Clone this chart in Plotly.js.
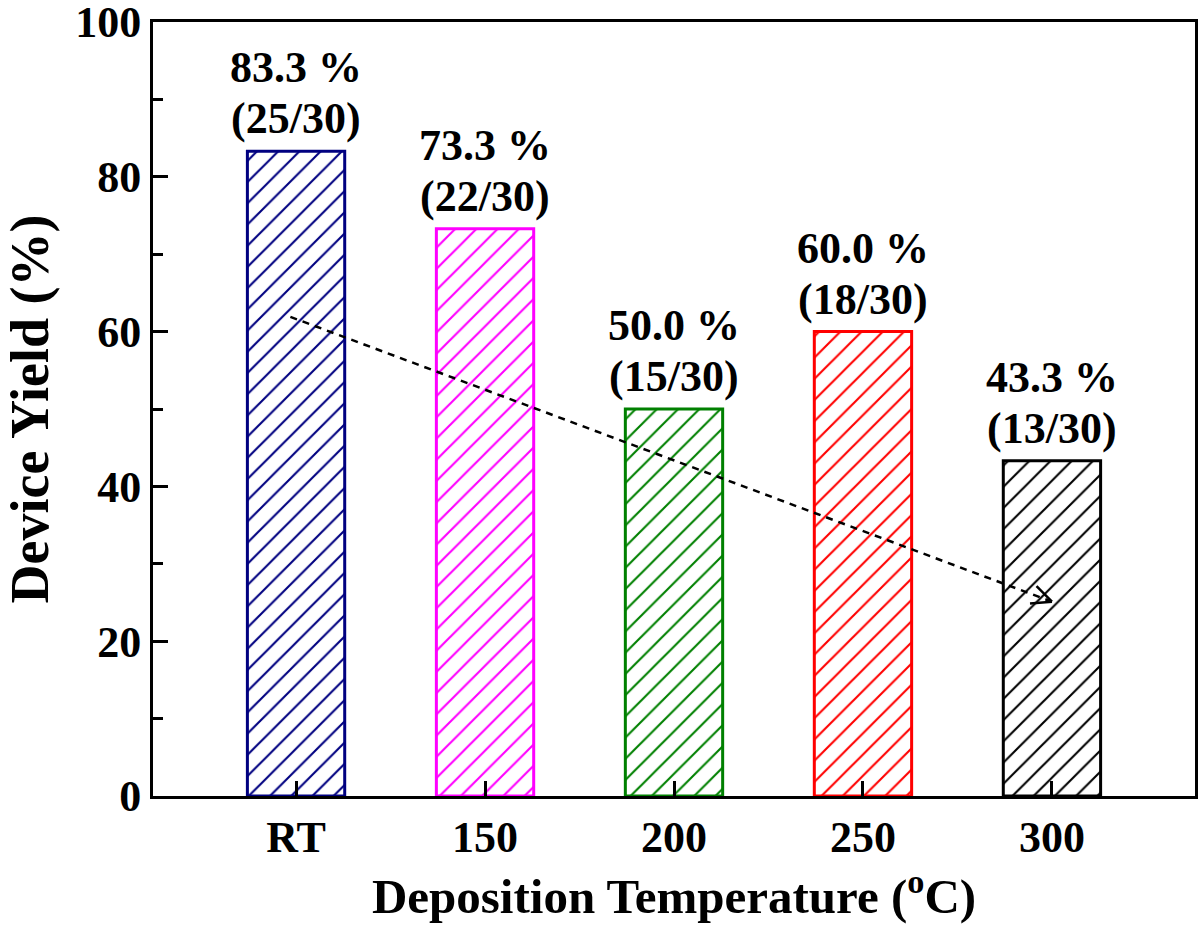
<!DOCTYPE html>
<html>
<head>
<meta charset="utf-8">
<script src="https://cdn.plot.ly/plotly-3.0.1.min.js"></script>
<style>html,body{margin:0;padding:0;background:#fff;}#chart{width:1200px;height:928px;}</style>
</head>
<body>
<div id="chart"></div>
<script>
const categories = ['RT', '150', '200', '250', '300'];
const yieldPct = [83.3, 73.3, 50.0, 60.0, 43.3];
const counts = ['25/30', '22/30', '15/30', '18/30', '13/30'];
const barColors = ['#000080', '#ff00ff', '#008000', '#ff0000', '#000000'];
const yTicks = [0, 20, 40, 60, 80, 100];
const trendStart = [-0.03, 61.9];
const trendEnd = [4.0, 25.1];

const FONT = 'Liberation Serif, Times New Roman, serif';
const W = 1200, H = 928;
const M = {l: 153, r: 5, t: 22, b: 132};
const xRange = [-0.757, 4.757], yRange = [0, 100];
const pxX = (W - M.l - M.r) / (xRange[1] - xRange[0]);
const pxY = (H - M.t - M.b) / (yRange[1] - yRange[0]);

const xIdx = categories.map((c, i) => i);

const bars = {
  type: 'bar',
  x: xIdx,
  y: yieldPct,
  width: 0.515,
  marker: {
    color: 'white',
    line: {color: barColors, width: 3},
    pattern: {shape: '/', fgcolor: barColors, fgopacity: 1, bgcolor: 'white', size: 15, solidity: 0.14, fillmode: 'overlay'}
  },
  hoverinfo: 'skip',
  showlegend: false
};

const trend = {
  type: 'scatter', mode: 'lines',
  x: [trendStart[0], trendEnd[0]],
  y: [trendStart[1], trendEnd[1]],
  line: {color: 'black', width: 2.5, dash: '7px,6px'},
  hoverinfo: 'skip', showlegend: false
};

// open arrowhead computed in pixel space, converted back to data units
const dxp = (trendEnd[0] - trendStart[0]) * pxX;
const dyp = (trendEnd[1] - trendStart[1]) * pxY;
const ang = Math.atan2(dyp, dxp);
const armLen = 22, armAng = 25 * Math.PI / 180;
const hx = [], hy = [];
[ang + Math.PI - armAng, ang + Math.PI + armAng].forEach((a, k) => {
  hx.push(trendEnd[0] + armLen * Math.cos(a) / pxX, trendEnd[0]);
  hy.push(trendEnd[1] + armLen * Math.sin(a) / pxY, trendEnd[1]);
  if (k === 0) { hx.push(null); hy.push(null); }
});
const head = {
  type: 'scatter', mode: 'lines', x: hx, y: hy,
  line: {color: 'black', width: 2.5},
  hoverinfo: 'skip', showlegend: false
};

const annFont = {family: FONT, size: 44, color: 'black', weight: 'bold'};
const annotations = [];
yieldPct.forEach((v, i) => {
  annotations.push({
    x: i, y: v, xref: 'x', yref: 'y',
    text: '(' + counts[i] + ')',
    showarrow: false, yanchor: 'bottom', xanchor: 'center', yshift: 6, font: annFont
  });
  annotations.push({
    x: i, y: v, xref: 'x', yref: 'y',
    text: v.toFixed(1) + ' %',
    showarrow: false, yanchor: 'bottom', xanchor: 'center', yshift: 57, font: annFont
  });
});

const layout = {
  width: W, height: H,
  margin: M,
  paper_bgcolor: 'white', plot_bgcolor: 'white',
  font: {family: FONT, color: 'black', weight: 'bold'},
  xaxis: {
    range: xRange, tickmode: 'array', tickvals: xIdx, ticktext: categories,
    ticks: 'inside', ticklen: 15, tickwidth: 3, tickcolor: 'black',
    showline: true, linewidth: 3, linecolor: 'black', mirror: true,
    showgrid: false, zeroline: false, ticklabeloverflow: 'allow',
    tickfont: {family: FONT, size: 44, weight: 'bold'},
    title: {text: 'Deposition Temperature (<sup>o</sup>C)', font: {family: FONT, size: 49, weight: 'bold'}, standoff: 18},
    automargin: false
  },
  yaxis: {
    range: yRange, tickmode: 'array', tickvals: yTicks,
    ticks: 'inside', ticklen: 15, tickwidth: 3, tickcolor: 'black',
    minor: {dtick: 10, ticks: 'inside', ticklen: 10, tickwidth: 3, tickcolor: 'black', showgrid: false},
    showline: true, linewidth: 3, linecolor: 'black', mirror: true,
    showgrid: false, zeroline: false, ticklabeloverflow: 'allow',
    tickfont: {family: FONT, size: 44, weight: 'bold'},
    title: {text: 'Device Yield (%)', font: {family: FONT, size: 54, weight: 'bold'}, standoff: 30},
    automargin: false
  },
  annotations: annotations,
  bargap: 0
};

Plotly.newPlot('chart', [bars, trend, head], layout, {staticPlot: true});
</script>
</body>
</html>
